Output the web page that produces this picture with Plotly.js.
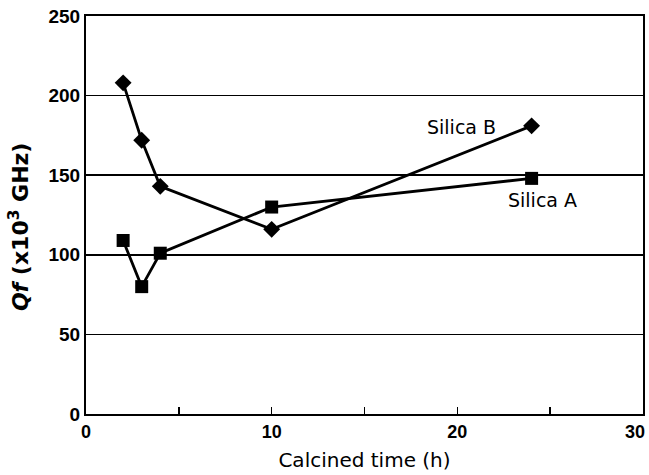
<!DOCTYPE html>
<html>
<head>
<meta charset="utf-8">
<script src="https://cdn.plot.ly/plotly-3.0.1.min.js"></script>
<style>html,body{margin:0;padding:0;background:#fff;}</style>
</head>
<body>
<div id="chart" style="width:649px;height:475px;"></div>
<script>
var timeHours = [2, 3, 4, 10, 24];
var silicaB = [208, 172, 143, 116, 181];
var silicaA = [109, 80, 101, 130, 148];
var seriesNames = ["Silica B", "Silica A"];
var xTicks = [0, 10, 20, 30];
var xTickText = ["0", "10", "20", "30"];
var yTicks = [0, 50, 100, 150, 200, 250];

var traces = [
  {x: timeHours, y: silicaB, name: seriesNames[0], mode: "lines+markers",
   line: {color: "#000", width: 2.8},
   marker: {symbol: "diamond", size: 13, color: "#000"}},
  {x: timeHours, y: silicaA, name: seriesNames[1], mode: "lines+markers",
   line: {color: "#000", width: 2.8},
   marker: {symbol: "square", size: 13, color: "#000"}}
];

var lastIdx = xTicks.length - 1;
var shownTickText = xTickText.map(function (t, i) { return i === lastIdx ? "" : t; });

var tickFont = {family: "Liberation Sans, Arial", size: 18, weight: "bold", color: "#000"};

var layout = {
  width: 649, height: 475,
  margin: {l: 86, r: 6, t: 16, b: 61},
  paper_bgcolor: "#fff", plot_bgcolor: "#fff",
  showlegend: false,
  font: {family: "DejaVu Sans, Liberation Sans, Arial", color: "#000"},
  xaxis: {
    range: [0, 30], tickmode: "array", tickvals: xTicks, ticktext: shownTickText,
    showgrid: false, zeroline: false,
    showline: true, mirror: true, linecolor: "#000", linewidth: 2,
    ticks: "inside", ticklen: 6, tickwidth: 1.5, tickcolor: "#000",
    minor: {dtick: 5, ticks: "inside", ticklen: 7, tickwidth: 1.5, tickcolor: "#000", showgrid: false},
    tickfont: tickFont,
    title: {text: "Calcined time (h)", font: {family: "DejaVu Sans", size: 20, color: "#000"}, standoff: 12}
  },
  yaxis: {
    range: [0, 250], tickmode: "array", tickvals: yTicks, ticktext: yTicks.map(String),
    showgrid: true, gridcolor: "#000", gridwidth: 1.5, zeroline: false,
    showline: true, mirror: true, linecolor: "#000", linewidth: 2,
    ticks: "inside", ticklen: 4, tickwidth: 1.5, tickcolor: "#000",
    tickfont: {family: "Liberation Sans, Arial", size: 19, weight: "bold", color: "#000"}
  },
  annotations: [
    {xref: "paper", yref: "paper", x: -0.12, y: 0.47, xanchor: "center", yanchor: "middle",
     textangle: -90, showarrow: false,
     text: "<i>Qf</i> (x10<sup>3</sup> GHz)",
     font: {family: "DejaVu Sans", size: 22, weight: "bold", color: "#000"}},
    {x: 20.25, y: 180.5, xref: "x", yref: "y", showarrow: false, text: seriesNames[0],
     font: {family: "DejaVu Sans", size: 19, color: "#000"}},
    {x: 24.6, y: 134.5, xref: "x", yref: "y", showarrow: false, text: seriesNames[1],
     font: {family: "DejaVu Sans", size: 19, color: "#000"}},
    {x: xTicks[lastIdx], xref: "x", yref: "paper", y: 0, xanchor: "right", yanchor: "middle",
     xshift: 4, yshift: -18, showarrow: false, text: xTickText[lastIdx], font: tickFont}
  ]
};

Plotly.newPlot("chart", traces, layout, {displayModeBar: false, staticPlot: true});
</script>
</body>
</html>
